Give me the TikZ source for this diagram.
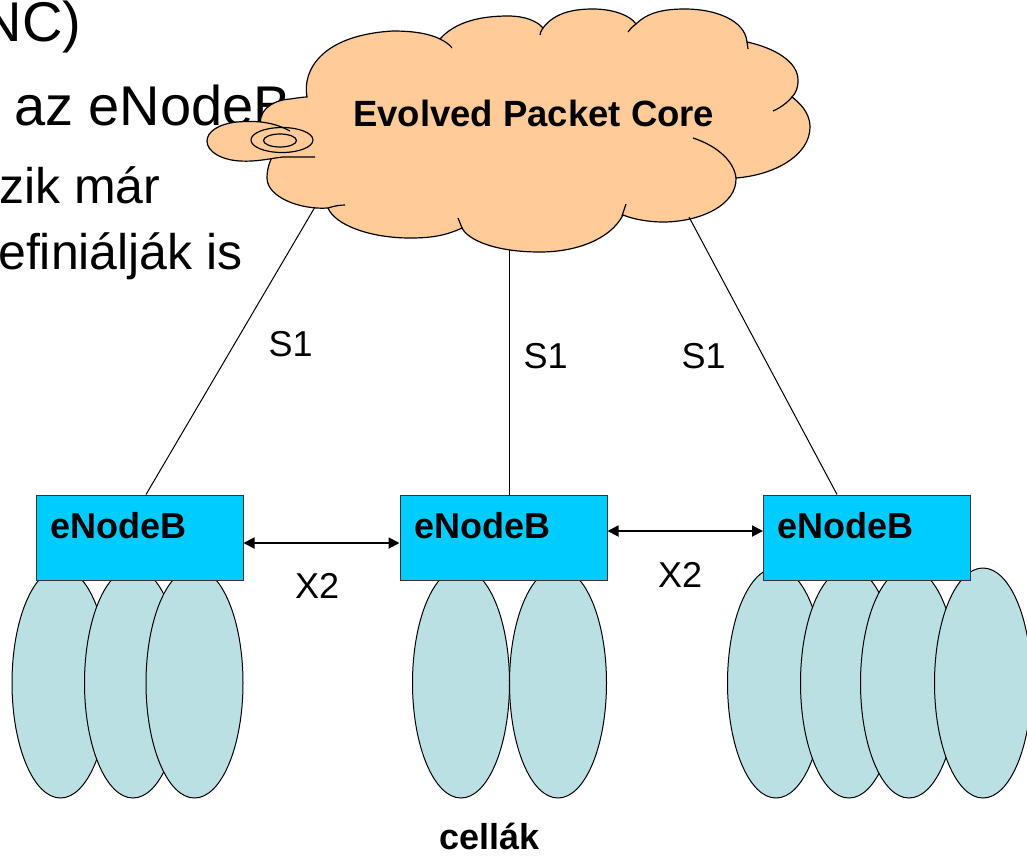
\documentclass[tikz,border=0pt]{standalone}
\usepackage{fontspec}
\setmainfont{Liberation Sans}
\usetikzlibrary{arrows.meta,calc}
\definecolor{cloudc}{HTML}{FFCC99}
\definecolor{enbc}{HTML}{00CCFF}
\definecolor{cellc}{HTML}{BBE0E3}
\definecolor{enbline}{HTML}{333333}
\tikzset{
  bgbig/.style={anchor=base west, inner sep=0pt, font=\fontsize{56}{66}\selectfont},
  bgsmall/.style={anchor=base west, inner sep=0pt, font=\fontsize{50}{60}\selectfont},
  lbl/.style={anchor=base west, inner sep=0pt, font=\fontsize{36}{43}\selectfont},
  blbl/.style={anchor=base west, inner sep=0pt, font=\fontsize{36}{43}\selectfont\bfseries},
  enb/.style={draw=enbline, line width=1pt, fill=enbc, minimum width=207pt, minimum height=85pt, inner sep=0pt},
  cell/.style={draw=black, line width=1pt, fill=cellc},
  cloudbody/.style={draw=black, line width=1.2pt, fill=cloudc},
  cloudline/.style={draw=black, line width=1.2pt},
  s1line/.style={draw=black, line width=1pt},
  x2arrow/.style={{Triangle[length=11pt,width=11pt]}-{Triangle[length=11pt,width=11pt]}, line width=1.8pt},
}
\begin{document}
\begin{tikzpicture}[x=1pt,y=-1pt]
\useasboundingbox (0,0) rectangle (1027,857);
% background slide text
\node[bgbig, anchor=base east] (t1) at (81.5,41) {NC)};
\node[bgbig] (t2) at (14,125) {az eNodeB};
\node[bgsmall] (t3) at (-1,203) {zik már};
\node[bgsmall] (t4) at (-2,269) {efiniálják is};
% cloud body
\path[cloudbody] (262,130) .. controls (255,112) and (272,100) .. (290,99) .. controls (297,98) and (303,97) .. (307,97)
  .. controls (302,70) and (322,35) .. (393,31) .. controls (415,31) and (430,34) .. (440,39)
  .. controls (455,22) and (480,16) .. (508,16) .. controls (525,16) and (537,21) .. (543,28)
  .. controls (555,12) and (575,9) .. (593,9) .. controls (612,9) and (630,15) .. (636,24)
  .. controls (648,12) and (665,9) .. (685,9) .. controls (715,9) and (745,20) .. (747,42)
  .. controls (775,48) and (798,62) .. (798,80) .. controls (798,88) and (796,93) .. (792,97)
  .. controls (805,107) and (810,117) .. (810,127) .. controls (810,155) and (775,175) .. (736,178)
  .. controls (737,205) and (700,222) .. (663,222) .. controls (648,222) and (633,219) .. (623,215)
  .. controls (610,240) and (575,252) .. (540,252) .. controls (495,252) and (468,240) .. (462,228)
  .. controls (445,236) and (430,238) .. (410,238) .. controls (370,238) and (335,225) .. (328,208)
  .. controls (300,210) and (267,197) .. (267,178) .. controls (267,165) and (272,158) .. (275,150)
  -- cycle;
% interior arcs of the cloud
\draw[cloudline] (440,39) .. controls (446,42) and (450,45) .. (452,48);
\draw[cloudline] (543,28) .. controls (541,31) and (540,33) .. (540,35);
\draw[cloudline] (636,24) .. controls (632,27) and (630,29) .. (628,32);
\draw[cloudline] (747,42) -- (748,49);
\draw[cloudline] (792,97) .. controls (787,103) and (780,108) .. (773,111);
\draw[cloudline] (736,178) .. controls (734,160) and (715,145) .. (693,138);
\draw[cloudline] (622,216) -- (626,204);
\draw[cloudline] (462,228) -- (458,218);
\draw[cloudline] (328,208) .. controls (334,206) and (340,205) .. (345,205);
% left ear of the cloud
\fill[cloudc] (290,131) .. controls (270,120) and (250,121) .. (237,122) .. controls (218,124) and (207,132) .. (207,141)
  .. controls (207,152) and (222,160) .. (240,161) .. controls (258,162) and (272,158) .. (283,157) -- (315,157) -- (300,138) -- cycle;
\draw[cloudline] (290,131) .. controls (270,120) and (250,121) .. (237,122) .. controls (218,124) and (207,132) .. (207,141)
  .. controls (207,152) and (222,160) .. (240,161) .. controls (258,162) and (272,158) .. (283,157) -- (315,157);
\draw[cloudline] (282,140) ellipse [x radius=31, y radius=12.5];
\draw[cloudline] (280,140.5) ellipse [x radius=16.5, y radius=6.5];
\node[blbl, font=\fontsize{36.5}{44}\selectfont\bfseries] (core) at (353,126) {Evolved Packet Core};
% cells
\path[cell] (60.5,683) ellipse [x radius=48.5, y radius=115];
\path[cell] (133,683) ellipse [x radius=48.5, y radius=115];
\path[cell] (194.5,683) ellipse [x radius=48.5, y radius=115];
\path[cell] (461,683) ellipse [x radius=48.5, y radius=115];
\path[cell] (558,683) ellipse [x radius=48.5, y radius=115];
\path[cell] (776,683) ellipse [x radius=48.5, y radius=115];
\path[cell] (849,683) ellipse [x radius=48.5, y radius=115];
\path[cell] (909,683) ellipse [x radius=48.5, y radius=115];
\path[cell] (983,683) ellipse [x radius=48.5, y radius=115];
% eNodeB boxes
\node[enb] (b1) at (139.5,537.5) {};
\node[enb] (b2) at (503.5,537.5) {};
\node[enb] (b3) at (867,537.5) {};
\node[blbl] (l1) at ($(b1.north west)+(14.6,44)$) {eNodeB};
\node[blbl] (l2) at ($(b2.north west)+(14.6,44)$) {eNodeB};
\node[blbl] (l3) at ($(b3.north west)+(14.6,44)$) {eNodeB};
% S1 links
\coordinate (k1) at (315,207);
\coordinate (k2) at (509,250);
\coordinate (k3) at (689,217);
\draw[s1line] (k1) -- ([xshift=6.5pt]b1.north);
\draw[s1line] (k2) -- ([xshift=5.5pt]b2.north);
\draw[s1line] (k3) -- ([xshift=-30pt]b3.north);
\node[lbl] (s1a) at (268.5,356) {S1};
\node[lbl] (s1b) at (523.5,368) {S1};
\node[lbl] (s1c) at (681.5,368) {S1};
% X2 links
\draw[x2arrow] ([yshift=-5.5pt]b1.east) -- ([yshift=-5.5pt]b2.west);
\draw[x2arrow] ([yshift=6.5pt]b2.east) -- ([yshift=6.5pt]b3.west);
\node[lbl] (x2a) at (295,598) {X2};
\node[lbl] (x2b) at (658,587) {X2};
\node[blbl] (cells) at (439,849) {cellák};
\end{tikzpicture}
\end{document}
